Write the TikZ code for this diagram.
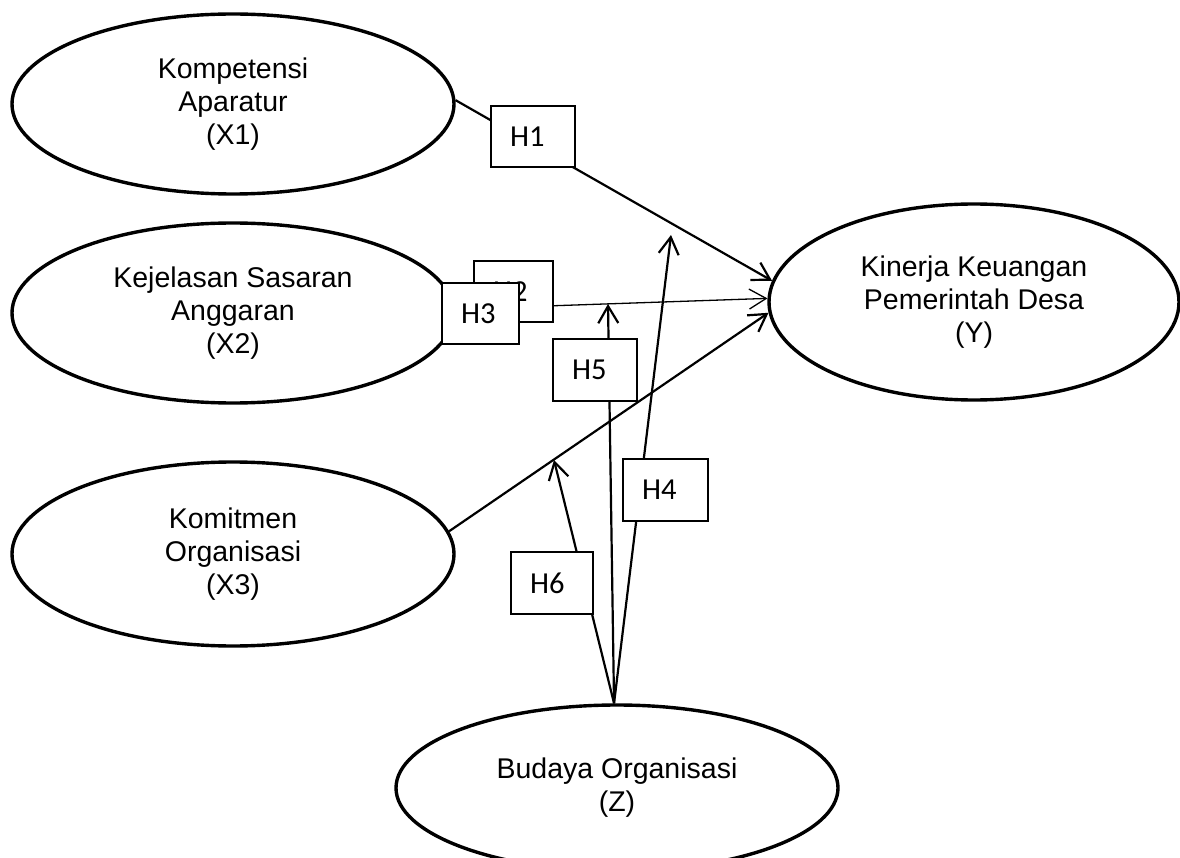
\documentclass[tikz,border=0pt]{standalone}
\usepackage{fontspec}
\setmainfont{Liberation Sans}
\newfontfamily\hfont{Carlito}
\usetikzlibrary{shapes.geometric,arrows.meta}
\begin{document}
\begin{tikzpicture}[x=1pt,y=-1pt,
  var/.style={ellipse, draw, line width=3.4pt, inner sep=0pt, align=center,
    font=\fontsize{28.5}{33}\selectfont},
  hbox/.style={draw, fill=white, line width=1.3pt, inner xsep=19pt, inner ysep=0pt,
    minimum height=62pt, align=left, font=\hfont\fontsize{30.5}{34}\selectfont},
  conn/.style={line width=2.2pt, -{Straight Barb[length=17pt,width=20pt]}},
  thinconn/.style={conn, line width=1.3pt}]
\useasboundingbox (0,0) rectangle (1180,858);
\clip (0,0) rectangle (1180,858);

% variables
\node[var, minimum width=442pt, minimum height=180pt] (X1) at (233,104) {Kompetensi\\Aparatur\\(X1)};
\node[var, minimum width=442pt, minimum height=180pt] (X2) at (233,313) {Kejelasan Sasaran\\Anggaran\\(X2)};
\node[var, minimum width=442pt, minimum height=184pt] (X3) at (233,554) {Komitmen\\Organisasi\\(X3)};
\node[var, minimum width=410pt, minimum height=196pt] (Y) at (974,302) {Kinerja Keuangan\\Pemerintah Desa\\(Y)};
\node[var, minimum width=442pt, minimum height=166pt] (Z) at (617,788) {Budaya Organisasi\\(Z)};

% free ends of the moderating arrows
\coordinate (t4) at (671,235);
\coordinate (t5) at (608,304);
\coordinate (t6) at (554,460);

% connectors
\draw[conn] (X1.1) -- (Y.174.5);
\draw[thinconn] (X2.1) -- (Y.179.5);
\draw[conn] (X3.6) -- (Y.183);
\draw[conn] (Z.92) -- (t4);
\draw[conn] (Z.92) -- (t5);
\draw[conn] (Z.92) -- (t6);

% hypothesis labels
\node[hbox, text width=46pt, minimum height=61pt] (h1) at (533,136.5) {H1};
\node[hbox, text width=41pt, minimum height=61pt] (h2) at (513.5,291.5) {H2};
\node[hbox, text width=39pt, minimum height=61pt] (h3) at (480.5,313.5) {H3};
\node[hbox, text width=47pt] (h4) at (665.5,490) {H4};
\node[hbox, text width=46pt] (h5) at (595,370) {H5};
\node[hbox, text width=44pt] (h6) at (552,583) {H6};
\end{tikzpicture}
\end{document}
